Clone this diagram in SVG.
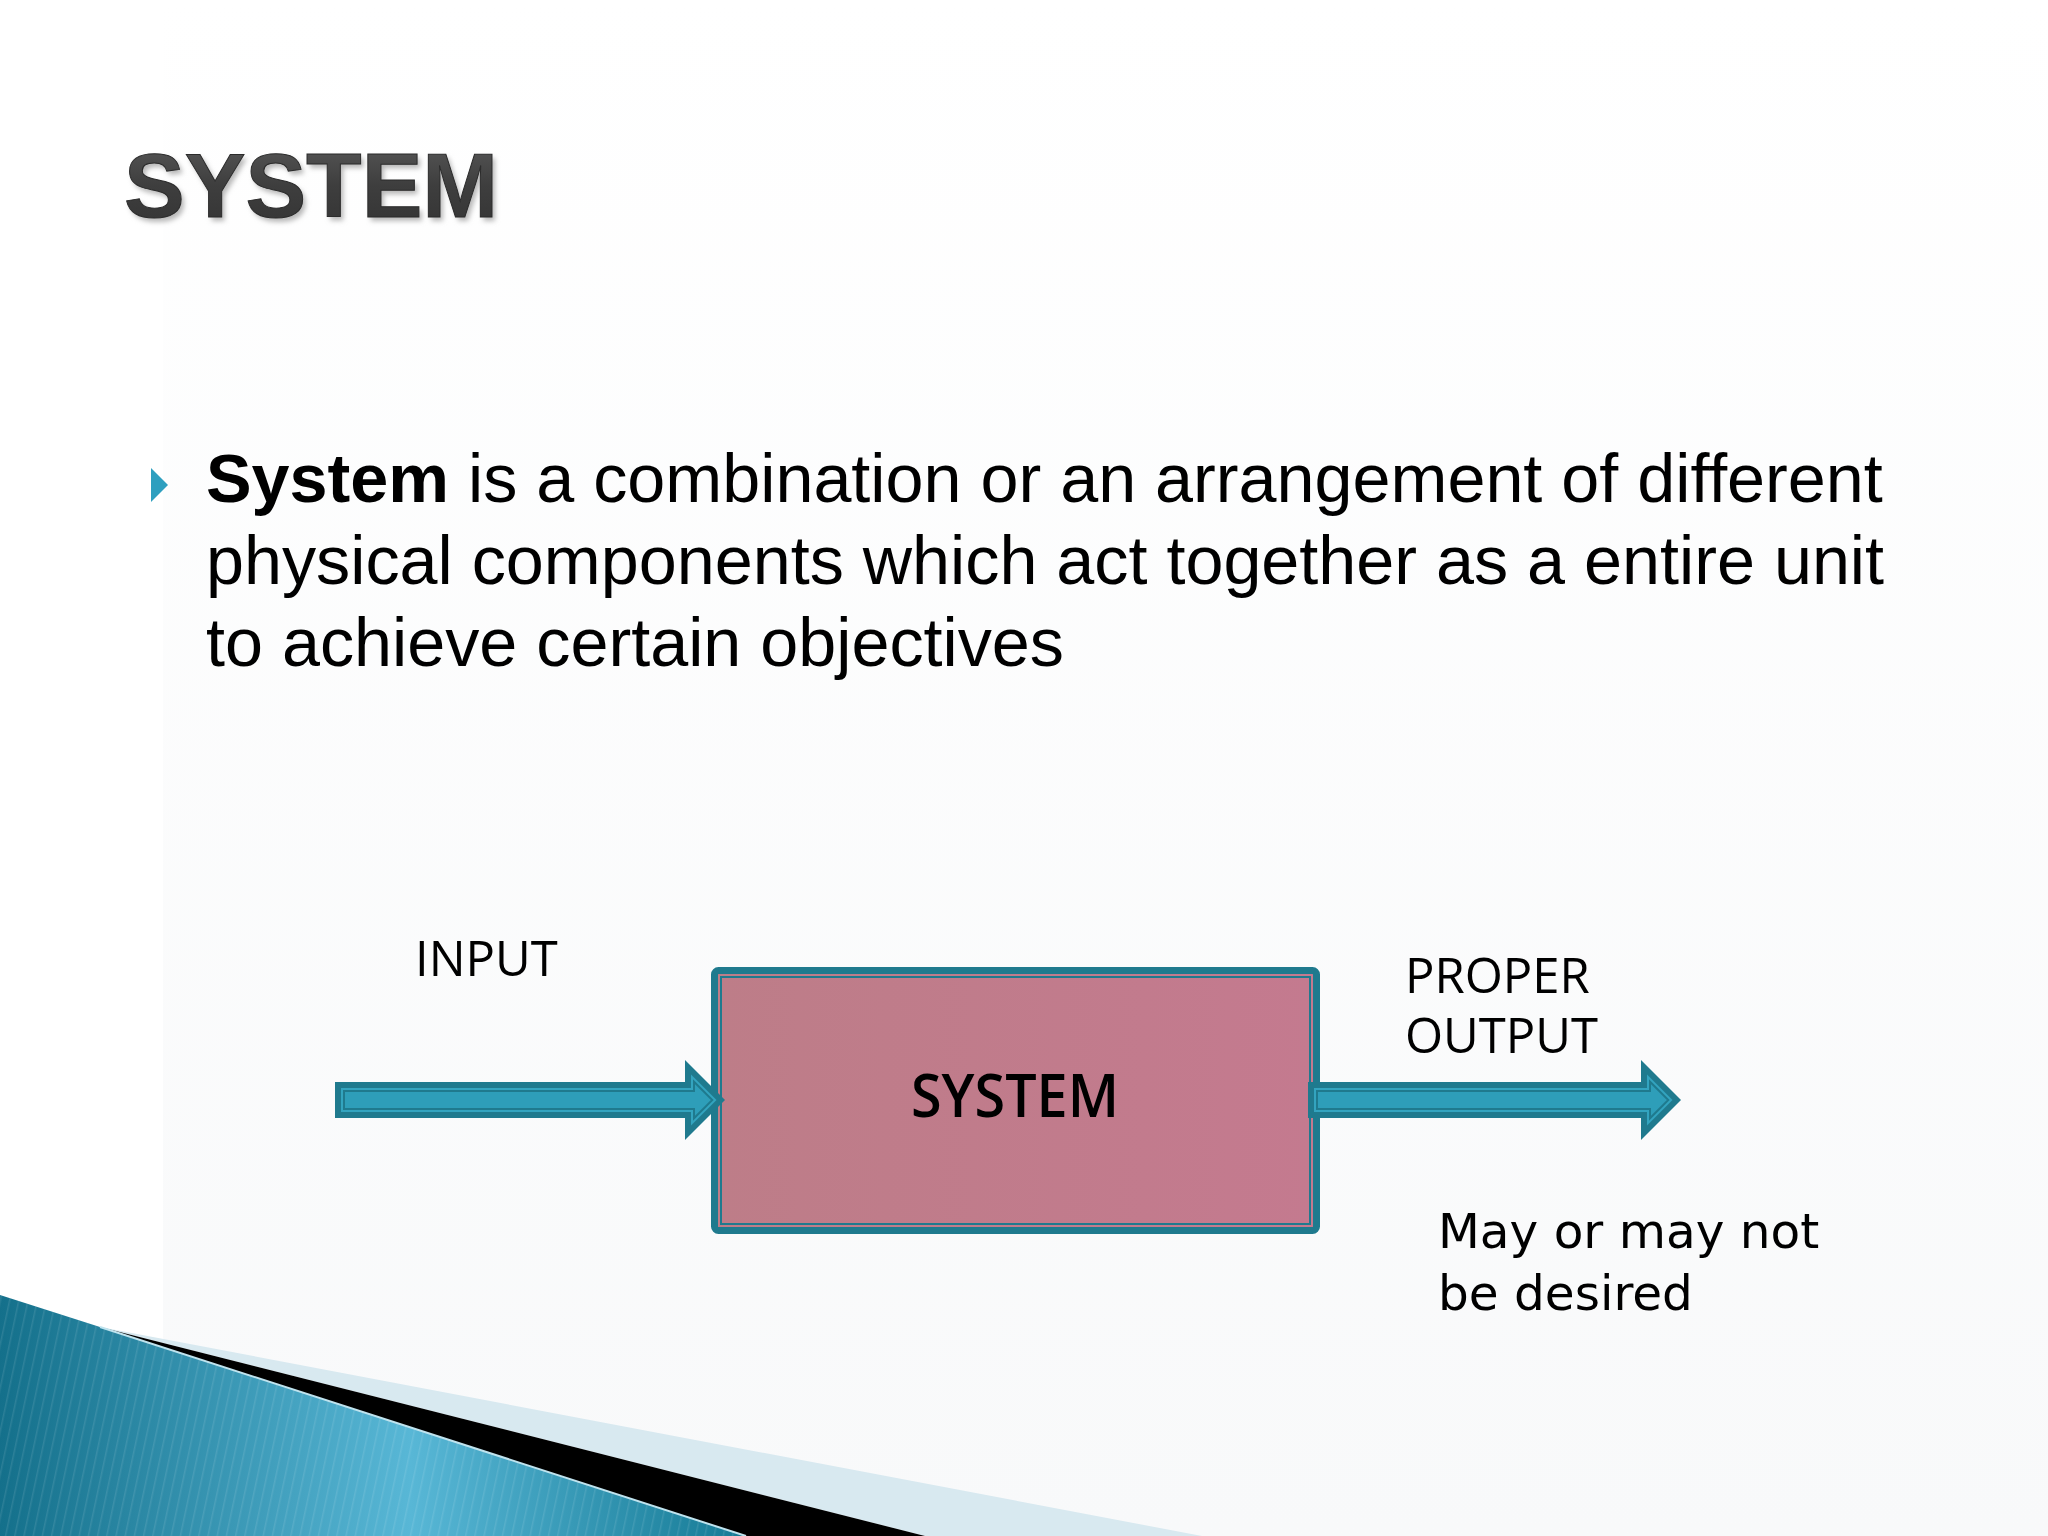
<svg xmlns="http://www.w3.org/2000/svg" width="2048" height="1536" viewBox="0 0 2048 1536">
  <defs>
    <style>
      .title{font-family:"Liberation Sans",Arial,sans-serif;font-weight:bold;font-size:91px}
      .body{font-family:"Liberation Sans",Arial,sans-serif;font-size:68.3px;fill:#000}
      .lbl{font-family:"Open Sans","Noto Sans",sans-serif;font-size:49px;fill:#000}
      .note{font-family:"DejaVu Sans",Verdana,sans-serif;font-size:48.5px;fill:#000}
      .boxtxt{font-family:"Open Sans","Noto Sans",sans-serif;font-weight:600;font-size:60px;fill:#000}
      .dark{fill:#1f7a8e}
      .lite{fill:#33a4bf}
      .core{fill:#2e9eb9;stroke:#1f7a8e;stroke-width:2}
    </style>
    <linearGradient id="bg" x1="0" y1="0" x2="0" y2="1">
      <stop offset="0" stop-color="#ffffff"/>
      <stop offset="1" stop-color="#f8f9fa"/>
    </linearGradient>
    <linearGradient id="pink" x1="0" y1="0" x2="1" y2="0">
      <stop offset="0" stop-color="#bd7d88"/>
      <stop offset="1" stop-color="#c47a8f"/>
    </linearGradient>
    <linearGradient id="blue" x1="0" y1="0" x2="1" y2="0">
      <stop offset="0" stop-color="#14708b"/>
      <stop offset="0.55" stop-color="#58b7d6"/>
      <stop offset="1" stop-color="#157a95"/>
    </linearGradient>
    <linearGradient id="titlefill" x1="0" y1="0" x2="0" y2="1">
      <stop offset="0" stop-color="#5a5a5a"/>
      <stop offset="0.5" stop-color="#3e3e3e"/>
      <stop offset="1" stop-color="#333333"/>
    </linearGradient>
    <pattern id="stripes" width="9" height="9" patternUnits="userSpaceOnUse" patternTransform="rotate(12)">
      <rect x="0" y="0" width="1.5" height="9" fill="#ffffff" opacity="0.1"/>
    </pattern>
    <filter id="shadow" x="-10%" y="-20%" width="130%" height="150%">
      <feGaussianBlur stdDeviation="2.5"/>
    </filter>
  </defs>

  <rect x="0" y="0" width="2048" height="1536" fill="#ffffff"/>
  <rect x="163" y="0" width="1885" height="1536" fill="url(#bg)"/>

  <!-- corner decoration -->
  <g id="decoration">
    <polygon points="100,1327 1202,1536 925,1536" fill="#d8e9f0"/>
    <polygon points="100,1327 925,1536 746,1536" fill="#000000"/>
    <polygon points="0,1295 100,1327 746,1536 0,1536" fill="url(#blue)"/>
    <polygon points="0,1295 100,1327 746,1536 0,1536" fill="url(#stripes)"/>
    <line x1="100" y1="1327" x2="746" y2="1536" stroke="#bfe3ee" stroke-width="2"/>
  </g>

  <!-- title -->
  <g id="title">
    <text class="title" x="127" y="221" fill="#b8b8b8" filter="url(#shadow)">SYSTEM</text>
    <text class="title" x="124" y="217" fill="url(#titlefill)" stroke="#2b2b2b" stroke-width="1">SYSTEM</text>
  </g>

  <!-- bullet -->
  <g id="bullet">
    <polygon points="151,468 168,485 151,502" fill="#2e9fbf"/>
    <text class="body" x="206" y="502"><tspan font-weight="bold">System</tspan> is a combination or an arrangement of different</text>
    <text class="body" x="206" y="584">physical components which act together as a entire unit</text>
    <text class="body" x="206" y="666">to achieve certain objectives</text>
  </g>

  <!-- system box -->
  <g id="system">
    <rect x="714.5" y="970.5" width="602" height="260" rx="4" fill="url(#pink)" stroke="#1f7a8e" stroke-width="7"/>
    <rect x="721" y="977" width="589" height="247" fill="none" stroke="#1f7a8e" stroke-width="2"/>
    <text class="boxtxt" x="1015" y="1117" text-anchor="middle" textLength="208" lengthAdjust="spacingAndGlyphs">SYSTEM</text>
  </g>

  <!-- connectors -->
  <g id="connectors">
    <g id="input-arrow">
      <polygon class="dark" points="335,1082 685,1082 685,1060 725,1100 685,1140 685,1118 335,1118"/>
      <polygon class="lite" points="341,1088 691,1088 691,1074.5 716.5,1100 691,1125.5 691,1112 341,1112"/>
      <polygon class="core" points="344,1091 694,1091 694,1081.7 712.3,1100 694,1118.3 694,1109 344,1109"/>
    </g>
    <g id="output-arrow">
      <polygon class="dark" points="1308,1082 1641,1082 1641,1060 1681,1100 1641,1140 1641,1118 1308,1118"/>
      <polygon class="lite" points="1314,1088 1647,1088 1647,1074.5 1672.5,1100 1647,1125.5 1647,1112 1314,1112"/>
      <polygon class="core" points="1317,1091 1650,1091 1650,1081.7 1668.3,1100 1650,1118.3 1650,1109 1317,1109"/>
    </g>
  </g>

  <!-- labels -->
  <g id="input-label">
    <text class="lbl" x="415" y="976" font-size="51">INPUT</text>
  </g>
  <g id="output-label">
    <text class="lbl" x="1405" y="993">PROPER</text>
    <text class="lbl" x="1405" y="1053">OUTPUT</text>
  </g>
  <g id="note">
    <text class="note" x="1438" y="1248">May or may not</text>
    <text class="note" x="1438" y="1310">be desired</text>
  </g>
</svg>
